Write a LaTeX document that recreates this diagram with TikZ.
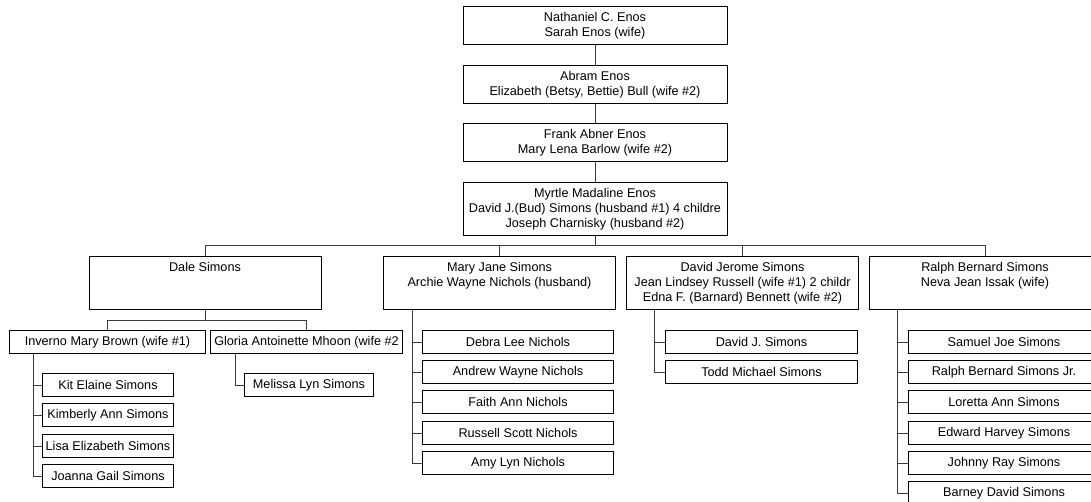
\documentclass[tikz,border=0pt]{standalone}
\usepackage{fontspec}
\setmainfont{Liberation Sans}
\usepackage{tikz}
\usetikzlibrary{
  positioning
}
\definecolor{ftBox}{HTML}{000000}
\definecolor{ftLink}{HTML}{3A3A3A}

\newcommand{\toptext}[1]{\parbox[c][39.75pt][t]{174pt}{\centering\vspace*{4.5pt}#1}}

\tikzset{
  person/.style={draw=ftBox, line width=0.75pt, inner sep=0pt, align=center},
  gen1/.style={person, minimum width=198pt, minimum height=28.5pt, anchor=north},
  gen2/.style={person, anchor=north},
  kid/.style={person, minimum height=17.25pt, anchor=north west},
  link/.style={draw=ftLink, line width=0.75pt}
}

\begin{document}
\begin{tikzpicture}[x=0.75pt, y=-0.75pt, font=\fontsize{9.5}{11.25}\selectfont]
  \useasboundingbox (0,0) rectangle (1091,502);
  \clip (0,0) rectangle (1091,502);

  % line of descent
  \node[gen1] (nathaniel) at (595,6) {Nathaniel C. Enos\\Sarah Enos (wife)};
  \node[gen1] (abram) at (595,65) {Abram Enos\\Elizabeth (Betsy, Bettie) Bull (wife \#2)};
  \node[gen1] (frank) at (595,123) {Frank Abner Enos\\Mary Lena Barlow (wife \#2)};
  \node[gen1, minimum height=39.75pt] (myrtle) at (595,182)
    {Myrtle Madaline Enos\\David J.(Bud) Simons (husband \#1) 4 childre\\Joseph Charnisky (husband \#2)};
  \draw[link] (nathaniel) -- (abram);
  \draw[link] (abram) -- (frank);
  \draw[link] (frank) -- (myrtle);

  % Myrtle's children
  \node[gen2] (dale) at (205,256) {\toptext{Dale Simons}};
  \node[gen2] (maryjane) at (499.5,256) {\toptext{Mary Jane Simons\\Archie Wayne Nichols (husband)}};
  \node[gen2] (davidj) at (742.5,256) {\toptext{David Jerome Simons\\Jean Lindsey Russell (wife \#1) 2 childr\\Edna F. (Barnard) Bennett (wife \#2)}};
  \node[gen2] (ralph) at (985,256) {\toptext{Ralph Bernard Simons\\Neva Jean Issak (wife)}};
  \coordinate (bus) at (595,245);
  \draw[link] (myrtle) -- (bus);
  \foreach \c in {dale, maryjane, davidj, ralph}{
    \draw[link] (bus) -| (\c.north);
  }

  % Dale's wives
  \node[kid, minimum width=147pt] (inverno) at (9,330) {Inverno Mary Brown (wife \#1)};
  \node[kid, minimum width=144pt] (gloria) at (210,330) {Gloria Antoinette Mhoon (wife \#2};
  \coordinate (daleBus) at (205,320);
  \draw[link] (dale) -- (daleBus);
  \draw[link] (daleBus) -| (inverno.north);
  \draw[link] (daleBus) -| (gloria.north);

  % grandchildren
  \coordinate (invTrunk) at ([xshift=18pt]inverno.south west);
  \foreach \y/\who/\name in {373/kit/{Kit Elaine Simons}, 403/kimberly/{Kimberly Ann Simons},
      434/lisa/{Lisa Elizabeth Simons}, 464/joanna/{Joanna Gail Simons}}{
    \node[kid, minimum width=98.25pt] (\who) at (42,\y) {\name};
    \draw[link] (invTrunk) |- (\who.west);
  }

  \coordinate (glTrunk) at ([xshift=18.75pt]gloria.south west);
  \node[kid, minimum width=96.75pt] (melissa) at (244,373) {Melissa Lyn Simons};
  \draw[link] (glTrunk) |- (melissa.west);

  \coordinate (mjTrunk) at ([xshift=21.75pt]maryjane.south west);
  \foreach \y/\who/\name in {330/debra/{Debra Lee Nichols}, 360/andrew/{Andrew Wayne Nichols},
      390/faith/{Faith Ann Nichols}, 421/russell/{Russell Scott Nichols}, 451/amy/{Amy Lyn Nichols}}{
    \node[kid, minimum width=143.25pt] (\who) at (422,\y) {\name};
    \draw[link] (mjTrunk) |- (\who.west);
  }

  \coordinate (djTrunk) at ([xshift=21pt]davidj.south west);
  \foreach \y/\who/\name in {330/davidjr/{David J. Simons}, 360/todd/{Todd Michael Simons}}{
    \node[kid, minimum width=144pt] (\who) at (665,\y) {\name};
    \draw[link] (djTrunk) |- (\who.west);
  }

  \coordinate (rbTrunk) at ([xshift=21.75pt]ralph.south west);
  \foreach \y/\who/\name in {330/samuel/{Samuel Joe Simons}, 360/ralphjr/{Ralph Bernard Simons Jr.},
      390/loretta/{Loretta Ann Simons}, 421/edward/{Edward Harvey Simons},
      451/johnny/{Johnny Ray Simons}, 481/barney/{Barney David Simons}}{
    \node[kid, minimum width=143.25pt] (\who) at (908,\y) {\name};
    \draw[link] (rbTrunk) |- (\who.west);
  }
\end{tikzpicture}
\end{document}
